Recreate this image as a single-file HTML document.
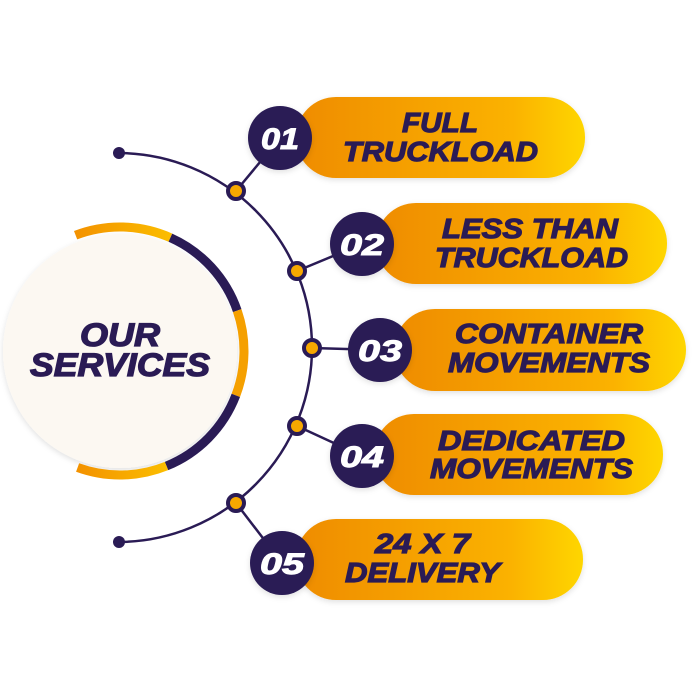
<!DOCTYPE html>
<html><head><meta charset="utf-8"><style>
html,body{margin:0;padding:0;background:#fff;}
svg{display:block}
text{font-family:"Liberation Sans",sans-serif;font-weight:bold;font-style:italic;}
</style></head><body>
<svg width="700" height="700" viewBox="0 0 700 700" xmlns="http://www.w3.org/2000/svg">
<defs>
<linearGradient id="og" x1="0" x2="1" y1="0" y2="0">
<stop offset="0" stop-color="#ef8c00"/><stop offset="0.75" stop-color="#fbb200"/><stop offset="1" stop-color="#fed600"/>
</linearGradient>
<linearGradient id="rg" x1="0" x2="1"><stop offset="0" stop-color="#f39200"/><stop offset="1" stop-color="#fbbd00"/></linearGradient>
<filter id="sh" x="-20%" y="-20%" width="140%" height="140%"><feDropShadow dx="0" dy="2" stdDeviation="3" flood-color="#000" flood-opacity="0.12"/></filter>
</defs>
<rect width="700" height="700" fill="#fff"/>
<path d="M120 153 A194.5 194.5 0 0 1 312 347.5 A194.5 194.5 0 0 1 120 542" fill="none" stroke="#2a1b55" stroke-width="2.5"/>
<circle cx="119" cy="153" r="6" fill="#2a1b55"/>
<circle cx="119" cy="542" r="6" fill="#2a1b55"/>
<g stroke="#2a1b55" stroke-width="2.5">
<line x1="236" y1="191" x2="280" y2="138"/>
<line x1="297" y1="271" x2="362" y2="244"/>
<line x1="312" y1="348" x2="380" y2="350"/>
<line x1="297" y1="426" x2="362" y2="456"/>
<line x1="236" y1="503" x2="282" y2="563"/>
</g>
<g fill="#f7a800" stroke="#2a1b55" stroke-width="4">
<circle cx="236" cy="191" r="8"/>
<circle cx="297" cy="271" r="8"/>
<circle cx="312" cy="348" r="8"/>
<circle cx="297" cy="426" r="8"/>
<circle cx="236" cy="503" r="8"/>
</g>
<circle cx="120" cy="351" r="117" fill="#fcf8f2" filter="url(#sh)"/>
<g fill="none" stroke-width="9">
<path d="M75.6 235.2 A124 124 0 0 1 170.4 237.7" stroke="url(#rg)"/>
<path d="M170.4 237.7 A124 124 0 0 1 237.2 310.6" stroke="#2a1b55"/>
<path d="M237.2 310.6 A124 124 0 0 1 235.8 395.4" stroke="#f5a000"/>
<path d="M235.8 395.4 A124 124 0 0 1 166.5 466" stroke="#2a1b55"/>
<path d="M166.5 466 A124 124 0 0 1 77.6 467.5" stroke="url(#rg)"/>
</g>
<g fill="#2a1b55" stroke="#2a1b55" stroke-width="1.3">
<text x="120" y="346" font-size="32" text-anchor="middle" textLength="80" lengthAdjust="spacingAndGlyphs">OUR</text>
<text x="120" y="376" font-size="32" text-anchor="middle" textLength="180" lengthAdjust="spacingAndGlyphs">SERVICES</text>
</g>
<g filter="url(#sh)" fill="url(#og)">
<rect x="296" y="97" width="289" height="81" rx="40"/>
<rect x="376" y="203" width="291" height="81" rx="40"/>
<rect x="394" y="309" width="292" height="82" rx="41"/>
<rect x="374" y="414" width="289" height="81" rx="40"/>
<rect x="296" y="519" width="287" height="81" rx="40"/>
</g>
<g fill="#2a1b55" filter="url(#sh)">
<circle cx="280" cy="138" r="32"/>
<circle cx="362" cy="244" r="32"/>
<circle cx="380" cy="350" r="32"/>
<circle cx="362" cy="456" r="32"/>
<circle cx="282" cy="563" r="32"/>
</g>
<g fill="#fff" stroke="#fff" stroke-width="1" font-size="30" text-anchor="middle">
<text x="280" y="149" textLength="38" lengthAdjust="spacingAndGlyphs">01</text>
<text x="362" y="255" textLength="44" lengthAdjust="spacingAndGlyphs">02</text>
<text x="380" y="361" textLength="44" lengthAdjust="spacingAndGlyphs">03</text>
<text x="362" y="467" textLength="44" lengthAdjust="spacingAndGlyphs">04</text>
<text x="282" y="574" textLength="44" lengthAdjust="spacingAndGlyphs">05</text>
</g>
<g fill="#2a1b55" stroke="#2a1b55" stroke-width="1.2" font-size="28">
<text x="402" y="132" textLength="76" lengthAdjust="spacingAndGlyphs">FULL</text>
<text x="343" y="161" textLength="195" lengthAdjust="spacingAndGlyphs">TRUCKLOAD</text>
<text x="442" y="238" textLength="176" lengthAdjust="spacingAndGlyphs">LESS THAN</text>
<text x="435" y="267" textLength="193" lengthAdjust="spacingAndGlyphs">TRUCKLOAD</text>
<text x="455" y="343" textLength="188" lengthAdjust="spacingAndGlyphs">CONTAINER</text>
<text x="448" y="372" textLength="202" lengthAdjust="spacingAndGlyphs">MOVEMENTS</text>
<text x="438" y="450" textLength="187" lengthAdjust="spacingAndGlyphs">DEDICATED</text>
<text x="430" y="478" textLength="203" lengthAdjust="spacingAndGlyphs">MOVEMENTS</text>
<text x="375" y="553" textLength="95" lengthAdjust="spacingAndGlyphs">24 X 7</text>
<text x="345" y="582" textLength="155" lengthAdjust="spacingAndGlyphs">DELIVERY</text>
</g>
</svg>
</body></html>
